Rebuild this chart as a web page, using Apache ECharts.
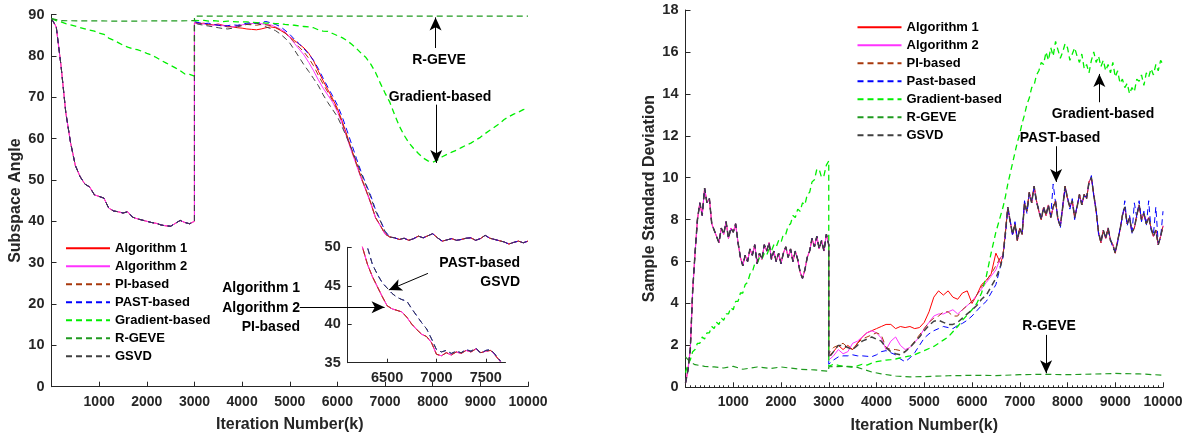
<!DOCTYPE html>
<html>
<head>
<meta charset="utf-8">
<title>Subspace angle / sample standard deviation</title>
<script src="https://cdn.jsdelivr.net/npm/echarts@6.0.0/dist/echarts.min.js"></script>
<style>
html, body { margin: 0; padding: 0; background: #fff; }
#chart { width: 1186px; height: 439px; }
</style>
</head>
<body>
<div id="chart"></div>
<script>
// ---- data; iteration 3000 appears twice for the reset jump ----
var leftNames = ['Algorithm 1', 'Algorithm 2', 'PI-based', 'PAST-based', 'Gradient-based', 'R-GEVE', 'GSVD'];
var rightNames = ['Algorithm 1', 'Algorithm 2', 'PI-based', 'Past-based', 'Gradient-based', 'R-GEVE', 'GSVD'];
var insetTicks = [6500, 7000, 7500];

// left: subspace angle (step 100), 0..3000 shared by the five curves that overlap there
var angleHead = [89.0, 87.0, 77.6, 66.3, 59.0, 53.5, 50.8, 49.0, 48.3, 46.4, 46.0, 45.6, 43.2, 42.5, 42.3, 42.0,
    42.3, 41.0, 40.6, 40.3, 40.0, 39.7, 39.5, 39.1, 38.9, 38.8, 39.5, 40.2, 39.7, 39.4, 40.0];
// 3000..7000
var angleMidAlg1 = [88.0, 87.8, 87.9, 87.6, 87.5, 87.7, 87.4, 87.2, 87.0, 86.8,
    86.7, 86.5, 86.4, 86.3, 86.5, 86.8, 87.0, 86.8, 86.2, 85.5,
    84.6, 83.7, 82.8, 81.9, 80.6, 78.8, 76.3, 74.0, 71.8, 69.6,
    67.3, 64.2, 60.8, 57.3, 54.0, 50.6, 47.6, 44.5, 40.9, 39.0, 37.0];
var angleMidAlg2 = [88.0, 87.8, 87.7, 87.6, 87.4, 87.5, 87.3, 87.1, 87.0, 87.2,
    87.5, 87.7, 87.8, 87.9, 87.8, 87.6, 87.5, 87.0, 86.5, 85.8,
    84.5, 83.0, 81.6, 80.2, 78.4, 76.4, 74.2, 72.2, 70.5, 68.8,
    66.5, 63.6, 60.2, 56.8, 53.6, 50.3, 47.4, 44.3, 40.8, 38.9, 36.9];
var angleMidPI = [88.1, 87.9, 87.7, 87.5, 87.6, 87.4, 87.2, 87.0, 87.1, 87.3,
    87.4, 87.6, 87.5, 87.4, 87.6, 87.5, 87.3, 86.9, 86.3, 85.6,
    84.5, 83.3, 82.1, 80.9, 79.4, 77.6, 75.3, 73.2, 71.2, 69.2,
    66.9, 63.9, 60.5, 57.1, 53.8, 50.5, 47.5, 44.4, 40.9, 39.0, 36.9];
var angleMidPast = [88.3, 88.0, 87.8, 87.9, 87.6, 87.4, 87.2, 87.3, 87.5, 87.4,
    87.6, 87.9, 88.0, 87.8, 88.1, 88.3, 88.0, 87.6, 87.1, 86.2,
    85.2, 84.0, 82.9, 81.7, 80.4, 78.9, 76.9, 74.6, 72.4, 70.3,
    68.1, 65.3, 62.0, 58.6, 55.2, 51.9, 49.0, 46.2, 42.8, 40.3, 37.6];
var angleMidGsvd = [87.9, 87.6, 87.4, 87.2, 87.0, 86.8, 86.6, 86.5, 86.7, 87.0,
    87.3, 87.6, 87.7, 87.9, 87.5, 87.0, 86.6, 86.1, 85.3, 84.3,
    83.1, 81.4, 79.6, 77.8, 76.2, 74.5, 72.8, 70.6, 68.7, 67.0,
    65.3, 62.8, 60.2, 57.4, 54.5, 51.5, 48.7, 45.8, 42.5, 40.1, 37.5];
// 7100..10000
var angleTail = [36.2, 36.0, 35.6, 35.9, 35.4, 35.8, 36.4, 36.0, 36.5, 37.0, 36.0, 35.2, 35.5, 35.8, 35.4,
    35.6, 35.9, 36.0, 35.4, 35.8, 36.6, 35.9, 35.6, 35.3, 35.0, 34.5, 34.9, 35.2, 34.8, 35.2];
var angleGradHead = [89.0, 88.5, 88.2, 87.8, 87.5, 87.2, 86.8, 86.5, 86.2, 86.0, 85.5, 85.2, 84.3, 83.8, 83.2, 82.6,
    82.1, 81.7, 81.5, 81.1, 80.6, 80.2, 79.6, 78.9, 78.3, 77.7, 77.1, 76.4, 75.6, 75.5, 75.1];
var angleGradTail = [88.6, 88.5, 88.6, 88.4, 88.5, 88.4, 88.3, 88.4, 88.3, 88.2,
    88.2, 88.2, 88.1, 88.0, 88.0, 87.9, 87.9, 87.8, 87.8, 87.6,
    87.5, 87.4, 87.2, 87.1, 87.0, 86.8, 86.3, 86.0, 85.9, 85.4,
    84.9, 84.4, 83.7, 82.8, 81.8, 80.6, 79.6, 78.0, 76.0, 73.4,
    71.0, 68.8, 65.8, 63.0, 60.8, 59.0, 57.6, 56.4, 55.3, 54.6,
    54.3, 54.8, 55.6, 56.2, 56.7, 57.2, 57.8, 58.4, 58.9, 59.6,
    60.3, 61.2, 62.0, 62.8, 63.6, 64.6, 65.3, 65.9, 66.4, 67.0, 67.3];
var angleRgeveIters = [0, 200, 1500, 3000, 3000, 6000, 10000];
var angleRgeve = [89.0, 88.5, 88.4, 88.5, 89.6, 89.6, 89.6];

// inset (6200..7650, step 50)
var insetIters = [6200, 6250, 6300, 6350, 6400, 6450, 6500, 6550, 6600, 6650, 6700, 6750, 6800, 6850, 6900,
    6950, 7000, 7050, 7100, 7150, 7200, 7250, 7300, 7350, 7400, 7450, 7500, 7550, 7600, 7650];
var insetLow = [52.2, 50.0, 47.8, 46.2, 44.9, 43.6, 42.4, 42.0, 41.8, 41.6, 40.9, 40.0, 39.3, 38.7, 38.4,
    37.6, 36.1, 35.9, 36.3, 36.0, 36.4, 36.2, 36.6, 36.4, 36.8, 36.3, 36.5, 36.6, 35.9, 35.1];
var insetHigh = [53.5, 51.3, 50.0, 47.8, 46.5, 45.4, 44.7, 44.0, 43.5, 43.2, 43.0, 42.0, 41.1, 40.2, 39.4,
    38.1, 36.7, 36.4, 36.6, 36.2, 36.5, 36.3, 36.7, 36.5, 36.9, 36.2, 36.6, 36.7, 36.0, 35.2];

// right: sample standard deviation
// 0..3000 step 50, shared
var sdHead = [0.2, 0.8, 1.8, 4.6, 6.4, 8.0, 8.8, 8.2, 9.5, 8.8,
    9.0, 7.8, 7.5, 7.2, 6.9, 7.6, 7.3, 7.9, 7.1, 7.6,
    7.4, 7.8, 6.9, 6.2, 5.8, 6.3, 6.0, 6.6, 6.3, 6.8,
    5.9, 6.4, 6.1, 6.8, 6.5, 6.9, 6.1, 6.5, 6.0, 6.4,
    5.9, 6.4, 6.7, 6.2, 6.6, 6.0, 6.5, 6.1, 5.5, 5.2,
    5.6, 6.2, 6.5, 7.1, 6.7, 7.2, 6.6, 7.0, 6.5, 7.3, 6.8];
// 3000..6600 step 100
var sdMidAlg1 = [1.5, 1.7, 2.0, 1.8, 2.0, 1.8, 2.1, 2.4, 2.6, 2.7,
    2.8, 2.9, 3.0, 3.0, 2.8, 2.9, 2.85, 2.9, 2.8, 2.85,
    3.1, 3.6, 4.3, 4.6, 4.4, 4.6, 4.3, 4.2, 4.5, 4.6,
    4.0, 4.4, 4.9, 5.1, 5.4, 6.4, 5.9];
var sdMidAlg2 = [1.3, 1.5, 1.8, 1.6, 1.7, 2.1, 2.2, 2.4, 2.6, 2.7,
    2.6, 2.35, 1.8, 2.2, 2.4, 2.0, 1.8, 1.9, 2.15, 2.4,
    2.8, 3.1, 3.4, 3.5, 3.5, 3.6, 3.7, 3.5, 3.7, 3.9,
    4.1, 4.4, 4.7, 5.0, 5.3, 5.6, 6.2];
var sdMidPI = [1.6, 1.9, 2.0, 2.1, 1.9, 1.8, 2.1, 2.3, 2.4, 2.5,
    2.6, 2.5, 1.9, 1.8, 1.8, 1.75, 1.7, 1.9, 2.2, 2.5,
    2.8, 3.1, 3.3, 3.4, 3.6, 3.6, 3.4, 3.4, 3.7, 3.9,
    4.1, 4.4, 4.8, 5.1, 5.4, 5.8, 6.2];
var sdMidPast = [1.1, 1.3, 1.45, 1.5, 1.5, 1.55, 1.5, 1.5, 1.48, 1.46,
    1.55, 1.7, 1.75, 1.65, 1.55, 1.35, 1.22, 1.4, 1.65, 2.0,
    2.35, 2.55, 2.7, 2.8, 2.9, 2.85, 2.8, 2.95, 3.05, 3.2,
    3.4, 3.65, 3.9, 4.1, 4.5, 4.9, 5.8];
var sdMidGsvd = [1.4, 1.7, 2.0, 2.0, 1.9, 1.8, 2.0, 2.2, 2.3, 2.4,
    2.3, 2.2, 1.9, 1.7, 1.6, 1.55, 1.7, 1.9, 2.15, 2.4,
    2.7, 2.95, 3.15, 3.2, 3.1, 3.0, 3.0, 3.1, 3.3, 3.5,
    3.7, 3.9, 4.2, 4.4, 4.8, 5.2, 5.8];
// 6650..10000 step 50
var sdTail = [6.3, 7.4, 8.6, 7.9, 7.3, 7.8, 7.0, 7.6, 7.3, 8.8,
    8.4, 9.3, 8.8, 9.6, 8.9, 8.4, 8.0, 8.6, 8.2, 8.7,
    8.1, 8.6, 8.9, 8.0, 7.7, 8.6, 9.6, 9.0, 8.6, 8.9,
    8.1, 8.6, 9.2, 8.7, 9.2, 9.0, 9.8, 10.0, 9.2, 8.4,
    7.4, 6.9, 7.5, 7.1, 7.6, 7.0, 6.8, 6.4, 7.0, 7.5,
    8.2, 8.6, 7.8, 8.1, 7.4, 7.6, 8.2, 8.7, 8.0, 8.3,
    7.8, 8.1, 7.6, 7.2, 7.5, 6.8, 7.2, 7.7];
var sdTailPast = [6.2, 7.2, 8.5, 8.0, 7.2, 7.9, 7.1, 7.5, 7.4, 8.9,
    8.3, 9.2, 8.9, 9.5, 8.8, 8.5, 8.1, 8.5, 8.3, 8.6,
    8.2, 9.7, 8.8, 8.1, 7.6, 8.7, 9.5, 9.1, 8.5, 9.0,
    8.0, 8.7, 9.1, 8.8, 9.1, 9.1, 9.7, 10.1, 9.1, 8.5,
    7.3, 7.0, 7.4, 7.2, 7.5, 7.1, 6.6, 6.5, 6.9, 7.6,
    8.1, 8.9, 7.7, 8.2, 7.3, 8.8, 8.1, 8.9, 7.9, 8.4,
    7.7, 8.9, 7.5, 7.3, 8.6, 6.9, 7.1, 8.4];
var sdGradHead = [0.7, 1.1, 1.3, 1.7, 1.8, 2.1, 2.1, 2.4, 2.3, 2.6,
    2.6, 2.9, 2.8, 3.1, 3.0, 3.3, 3.2, 3.5, 3.5, 3.8,
    3.7, 4.1, 4.1, 4.5, 4.5, 4.9, 5.0, 5.4, 5.5, 5.9,
    5.9, 6.2, 6.1, 6.4, 6.3, 6.6, 6.5, 6.8, 6.7, 7.0,
    6.9, 7.3, 7.3, 7.7, 7.8, 8.2, 8.1, 8.5, 8.4, 8.8,
    8.7, 9.2, 9.3, 9.8, 9.9, 10.4, 10.4, 10.0, 10.1, 10.6, 10.8];
var sdGradMid = [1.0, 1.1, 1.05, 1.0, 1.0, 0.98, 1.02, 1.1, 1.06, 1.15,
    1.22, 1.26, 1.3, 1.32, 1.35, 1.4, 1.45, 1.5, 1.56, 1.65,
    1.75, 1.85, 1.95, 2.1, 2.25, 2.4, 2.65, 2.9, 3.2, 3.45,
    3.7, 4.0, 4.5, 5.3, 6.4, 7.4, 8.2];
var sdGradTail = [8.6, 9.1, 9.7, 10.2, 10.7, 11.2, 11.7, 12.1, 12.6, 13.0,
    13.5, 13.8, 14.3, 14.4, 14.9, 15.1, 15.5, 15.4, 16.0, 15.6,
    16.2, 15.8, 16.5, 16.1, 15.7, 16.0, 16.4, 16.2, 15.6, 15.9,
    16.2, 15.8, 15.5, 15.9, 15.2, 15.4, 15.0, 15.6, 16.0, 15.5,
    15.8, 15.3, 15.6, 15.1, 15.4, 15.0, 15.5, 14.8, 15.1, 14.5,
    14.7, 14.3, 14.5, 14.0, 14.3, 14.1, 14.7, 14.6, 14.9, 14.4,
    15.0, 14.8, 15.2, 14.9, 15.4, 15.1, 15.6, 15.4];
var sdRgeveIters = [0, 100, 200, 400, 600, 800, 1000, 1200, 1500, 1800, 2000, 2400, 2700, 3000,
    3000, 3300, 3600, 3900, 4100, 4400, 4700, 5000, 5500, 6000, 6500, 7000, 7500, 8000, 8500, 9000, 9500, 10000];
var sdRgeve = [1.45, 1.2, 1.08, 1.0, 0.97, 0.92, 1.0, 0.86, 0.97, 0.9, 0.97, 0.86, 0.83, 0.76,
    0.98, 1.0, 0.95, 0.73, 0.64, 0.54, 0.5, 0.51, 0.55, 0.57, 0.56, 0.6, 0.62, 0.6, 0.63, 0.66, 0.64, 0.58];

// sampling grids
var iters = [];                       // left: 0..3000, 3000..10000 step 100
for (var k = 0; k <= 30; k++) iters.push(k * 100);
for (k = 30; k <= 100; k++) iters.push(k * 100);
var sdIters = [];                     // right: step 50 / 100 / 50
for (k = 0; k <= 60; k++) sdIters.push(k * 50);
for (k = 30; k <= 66; k++) sdIters.push(k * 100);
for (k = 133; k <= 200; k++) sdIters.push(k * 50);

var FONT = '"Liberation Sans", Arial, Helvetica, sans-serif';
var AXIS = '#262626';
var colors = {
    alg1: '#ff0000', alg2: '#ff33ff', pi: '#a8380c', past: '#0000ff',
    grad: '#00ee00', rgeve: '#1f9a1f', gsvd: '#404040'
};
var DASH = [6, 4];

function pairs(xs, ys) {
    var out = [];
    for (var i = 0; i < xs.length; i++) out.push([xs[i], ys[i]]);
    return out;
}
function line(name, color, dashed, idx, data, width) {
    var s = {
        type: 'line', xAxisIndex: idx, yAxisIndex: idx, data: data,
        symbol: 'none', showSymbol: false, silent: true,
        lineStyle: { color: color, width: width || 1, type: dashed ? DASH : 'solid' },
        itemStyle: { color: color },
        emphasis: { disabled: true }
    };
    if (name) s.name = name;
    return s;
}
function arrows(list) {
    return {
        silent: true, symbol: ['none', 'arrow'], symbolSize: [9, 13],
        lineStyle: { color: '#000', width: 1, type: 'solid' },
        label: { show: false },
        data: list.map(function (a) { return [{ coord: [a[0], a[1]] }, { coord: [a[2], a[3]] }]; })
    };
}
function xAxis(idx, minor) {
    return {
        type: 'value', gridIndex: idx, min: 0, max: 10000, interval: 1000,
        name: 'Iteration Number(k)', nameLocation: 'middle', nameGap: 30,
        nameTextStyle: { fontSize: 16, fontWeight: 'bold', color: AXIS, fontFamily: FONT },
        axisLine: { onZero: false, lineStyle: { color: AXIS, width: 1 } },
        axisTick: { inside: true, length: 5, lineStyle: { color: AXIS } },
        minorTick: { show: !!minor, splitNumber: 10, length: 2, lineStyle: { color: AXIS } },
        axisLabel: {
            fontSize: 14, fontWeight: 'bold', color: AXIS, fontFamily: FONT, margin: 8,
            formatter: function (v) { return v === 0 ? '' : String(v); }
        },
        splitLine: { show: false }
    };
}
function yAxis(idx, max, step, name) {
    return {
        type: 'value', gridIndex: idx, min: 0, max: max, interval: step,
        name: name, nameLocation: 'middle', nameGap: 28,
        nameTextStyle: { fontSize: 16, fontWeight: 'bold', color: AXIS, fontFamily: FONT },
        axisLine: { show: true, lineStyle: { color: AXIS, width: 1 } },
        axisTick: { show: true, inside: true, length: 5, lineStyle: { color: AXIS } },
        axisLabel: { fontSize: 14.5, fontWeight: 'bold', color: AXIS, fontFamily: FONT, margin: 7 },
        splitLine: { show: false }
    };
}
function legend(left, top, names) {
    return {
        orient: 'vertical', left: left, top: top, data: names, selectedMode: false,
        itemWidth: 44, itemHeight: 14, itemGap: 4, padding: 0,
        itemStyle: { opacity: 0 },
        textStyle: { fontSize: 13, fontWeight: 'bold', color: '#000', fontFamily: FONT, lineHeight: 14 }
    };
}
function note(text, x, y, align) {
    return {
        type: 'text', x: x, y: y, silent: true,
        style: {
            text: text, align: align || 'center', verticalAlign: 'middle', fill: '#000',
            font: 'bold 14px ' + FONT
        }
    };
}

var leftRgeve = line('R-GEVE', colors.rgeve, true, 0, pairs(angleRgeveIters, angleRgeve), 1.2);
leftRgeve.markLine = arrows([
    [8060, 81.9, 8060, 89.3],
    [8075, 68.2, 8075, 54.1],
    [5210, 19.2, 6990, 19.2],
    [7900, 27.4, 7080, 23.4]
]);
var rightRgeve = line('R-GEVE', colors.rgeve, true, 1, pairs(sdRgeveIters, sdRgeve), 1.2);
rightRgeve.markLine = arrows([
    [8667, 13.6, 8667, 14.95],
    [7762, 11.5, 7762, 9.8],
    [7552, 2.5, 7552, 0.67]
]);

var series = [
    line('Algorithm 1', colors.alg1, false, 0, pairs(iters, angleHead.concat(angleMidAlg1, angleTail))),
    line('Algorithm 2', colors.alg2, false, 0, pairs(iters, angleHead.concat(angleMidAlg2, angleTail))),
    line('PI-based', colors.pi, true, 0, pairs(iters, angleHead.concat(angleMidPI, angleTail))),
    line('PAST-based', colors.past, true, 0, pairs(iters, angleHead.concat(angleMidPast, angleTail))),
    line('Gradient-based', colors.grad, true, 0, pairs(iters, angleGradHead.concat(angleGradTail)), 1.3),
    leftRgeve,
    line('GSVD', colors.gsvd, true, 0, pairs(iters, angleHead.concat(angleMidGsvd, angleTail))),

    line('Algorithm 1', colors.alg1, false, 1, pairs(sdIters, sdHead.concat(sdMidAlg1, sdTail))),
    line('Algorithm 2', colors.alg2, false, 1, pairs(sdIters, sdHead.concat(sdMidAlg2, sdTail))),
    line('PI-based', colors.pi, true, 1, pairs(sdIters, sdHead.concat(sdMidPI, sdTail))),
    line('Past-based', colors.past, true, 1, pairs(sdIters, sdHead.concat(sdMidPast, sdTailPast))),
    line('Gradient-based', colors.grad, true, 1, pairs(sdIters, sdGradHead.concat(sdGradMid, sdGradTail)), 1.3),
    rightRgeve,
    line('GSVD', colors.gsvd, true, 1, pairs(sdIters, sdHead.concat(sdMidGsvd, sdTail)), 1.5),

    line(null, colors.alg1, false, 2, pairs(insetIters, insetLow)),
    line(null, colors.alg2, false, 2, pairs(insetIters, insetLow)),
    line(null, colors.pi, true, 2, pairs(insetIters, insetLow)),
    line(null, colors.past, true, 2, pairs(insetIters, insetHigh)),
    line(null, colors.gsvd, true, 2, pairs(insetIters, insetHigh))
];

var insetX = {
    type: 'value', gridIndex: 2, min: 6100, max: 7700,
    axisLine: { onZero: false, lineStyle: { color: AXIS, width: 1 } },
    axisTick: { inside: true, length: 4, customValues: insetTicks, lineStyle: { color: AXIS } },
    axisLabel: {
        customValues: insetTicks, fontSize: 14.5, fontWeight: 'bold', color: AXIS, fontFamily: FONT, margin: 8,
        formatter: function (v) { return String(v); }
    },
    splitLine: { show: false }
};
var insetY = {
    type: 'value', gridIndex: 2, min: 35, max: 50, interval: 5,
    axisLine: { show: true, lineStyle: { color: AXIS, width: 1 } },
    axisTick: { show: true, inside: true, length: 4, lineStyle: { color: AXIS } },
    axisLabel: { fontSize: 14.5, fontWeight: 'bold', color: AXIS, fontFamily: FONT, margin: 7 },
    splitLine: { show: false }
};

var option = {
    animation: false,
    backgroundColor: '#fff',
    grid: [
        { left: 51.5, top: 14.5, width: 476.5, height: 372.2 },
        { left: 685.5, top: 10, width: 477.5, height: 377.3 },
        { left: 347.7, top: 247.3, width: 157.8, height: 115.4 }
    ],
    xAxis: [xAxis(0, false), xAxis(1, true), insetX],
    yAxis: [yAxis(0, 90, 10, 'Subspace Angle'), yAxis(1, 18, 2, 'Sample Standard Deviation'), insetY],
    legend: [legend(65, 241.3, leftNames), legend(856.5, 20.3, rightNames)],
    series: series,
    graphic: [
        note('R-GEVE', 439, 60),
        note('Gradient-based', 440, 97),
        note('Algorithm 1', 300, 288, 'right'),
        note('Algorithm 2', 300, 308, 'right'),
        note('PI-based', 300, 327, 'right'),
        note('PAST-based', 520, 263, 'right'),
        note('GSVD', 520, 282, 'right'),
        note('Gradient-based', 1103, 114),
        note('PAST-based', 1060, 138.5),
        note('R-GEVE', 1049, 326)
    ]
};

var myChart = echarts.init(document.getElementById('chart'), null, { renderer: 'canvas' });
myChart.setOption(option);
</script>
</body>
</html>
